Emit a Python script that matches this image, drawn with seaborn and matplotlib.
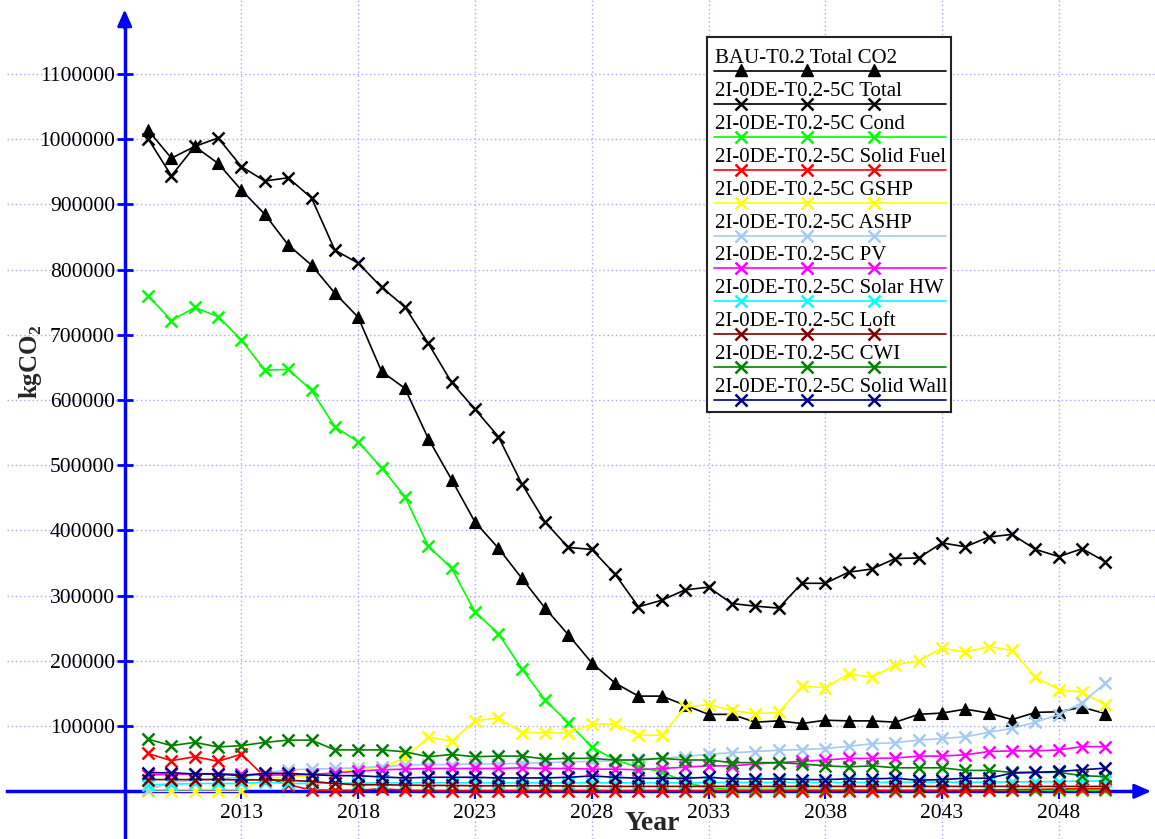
import matplotlib
matplotlib.use("Agg")
import matplotlib.pyplot as plt
from matplotlib.ticker import FuncFormatter
import seaborn as sns

# ---- data (kgCO2 per year) ----
years = list(range(2009, 2051))

bau_total = [1014000, 971000, 989000, 963000, 922000, 885000, 838000, 807000, 764000, 727000,
             644000, 618000, 541000, 478000, 413000, 373000, 327000, 281000, 240000, 197000,
             166000, 146000, 146000, 132000, 118000, 118000, 106000, 108000, 104000, 109000,
             108000, 108000, 106000, 118000, 120000, 126000, 120000, 110000, 121000, 122000,
             129000, 119000]

total = [1001000, 944000, 989000, 1002000, 958000, 936000, 941000, 910000, 830000, 810000,
         773000, 743000, 687000, 627000, 586000, 544000, 472000, 413000, 374000, 371000,
         333000, 283000, 293000, 309000, 313000, 288000, 284000, 281000, 319000, 319000,
         336000, 341000, 357000, 358000, 381000, 375000, 390000, 394000, 371000, 360000,
         372000, 352000]

cond = [760000, 722000, 742000, 728000, 692000, 646000, 647000, 615000, 559000, 536000,
        496000, 452000, 376000, 342000, 275000, 242000, 188000, 140000, 105000, 68000,
        48000, 37000, 30000, 14000, 5000, 3000, 3000, 3000, 3000, 2500,
        2500, 2000, 2000, 2000, 2000, 2000, 1500, 1500, 1500, 1500,
        1500, 1500]

solid_fuel = [58000, 47000, 53000, 46000, 57000, 22000, 10000, 2000, 1500, 1500,
              4000, 1500, 1000, 1000, 1000, 1000, 1000, 1000, 1000, 1000,
              1000, 1000, 1000, 1000, 1000, 1000, 1000, 1000, 1000, 1000,
              1000, 1000, 1000, 1000, 1000, 1500, 2000, 2500, 3000, 3500,
              4000, 4000]

gshp = [0, 0, 0, 0, 0, 20000, 22000, 24000, 28000, 35000,
        37000, 51000, 83000, 77000, 108000, 113000, 90000, 90000, 89000, 103000,
        103000, 86000, 86000, 129000, 133000, 124000, 119000, 121000, 161000, 159000,
        180000, 175000, 194000, 200000, 220000, 213000, 222000, 216000, 175000, 156000,
        152000, 132000]

ashp = [2000, 14000, 17000, 19000, 22000, 28000, 33000, 34000, 35000, 36000,
        38000, 40000, 41000, 41000, 42000, 42000, 43000, 44000, 45000, 46000,
        47000, 49000, 51000, 53000, 57000, 59000, 61000, 63000, 64000, 65500,
        69000, 73000, 74500, 78500, 81000, 83500, 90500, 96500, 106000, 117500,
        136000, 166000]

pv = [25000, 26000, 27000, 27000, 26000, 25000, 25000, 26000, 28000, 31000,
      33000, 34000, 35000, 35000, 35000, 35000, 36000, 35000, 35000, 34000,
      34000, 33000, 35000, 37000, 39000, 39000, 42000, 44000, 46000, 48000,
      50500, 50500, 51000, 54000, 54000, 56000, 61000, 62000, 62000, 63500,
      68500, 68500]

solar_hw = [10000, 11000, 12000, 12000, 12000, 14000, 12000, 12000, 12500, 12500,
            13000, 13000, 13000, 13000, 13000, 13000, 13000, 13000, 13000, 13000,
            13000, 13000, 13000, 13000, 13500, 13500, 13500, 13500, 13500, 13500,
            13500, 13500, 14000, 14000, 14000, 14000, 14000, 14500, 14500, 15000,
            15500, 16000]

loft = [18000, 18000, 18000, 18000, 17500, 17500, 17000, 15000, 12000, 10000,
        10000, 9500, 9000, 9000, 8500, 8500, 8500, 8500, 8000, 8000,
        7500, 7500, 7500, 7500, 7500, 7500, 7500, 7500, 7500, 7500,
        7500, 7500, 7500, 7500, 7500, 7500, 7500, 7500, 7500, 7500,
        7500, 7500]

cwi = [80000, 70000, 75000, 68000, 70000, 75000, 78500, 78500, 63500, 63500,
       63500, 60500, 53000, 56500, 53000, 54000, 54000, 49500, 50500, 50500,
       48000, 48000, 50500, 48000, 48000, 44000, 44000, 44000, 42000, 39000,
       37500, 39000, 36000, 36000, 36000, 32000, 32000, 29000, 29000, 29000,
       24000, 22500]

solid_wall = [28500, 28500, 26500, 26500, 24000, 27500, 27500, 25500, 24000, 24000,
              22000, 20500, 21500, 21500, 21500, 20500, 20500, 20500, 21500, 23500,
              21500, 20000, 20000, 20000, 21500, 19000, 19000, 19000, 18000, 18000,
              19000, 19000, 20000, 17000, 18000, 20000, 20000, 28000, 29000, 30500,
              33000, 35500]

series_labels = ["BAU-T0.2 Total CO2",
                 "2I-0DE-T0.2-5C Total",
                 "2I-0DE-T0.2-5C Cond",
                 "2I-0DE-T0.2-5C Solid Fuel",
                 "2I-0DE-T0.2-5C GSHP",
                 "2I-0DE-T0.2-5C ASHP",
                 "2I-0DE-T0.2-5C PV",
                 "2I-0DE-T0.2-5C Solar HW",
                 "2I-0DE-T0.2-5C Loft",
                 "2I-0DE-T0.2-5C CWI",
                 "2I-0DE-T0.2-5C Solid Wall"]
series_values = [bau_total, total, cond, solid_fuel, gshp, ashp, pv,
                 solar_hw, loft, cwi, solid_wall]
series_colors = ["#000000", "#000000", "#00ff00", "#ff0000", "#ffff00", "#a6caf0",
                 "#ff00ff", "#00ffff", "#800000", "#008000", "#000080"]
series_markers = ["^"] + ["x"] * 10

xticks = list(range(2013, 2049, 5))
yticks = list(range(100000, 1100001, 100000))

# ---- style ----
sns.set_theme(style="white")
plt.rcParams["font.family"] = ["Liberation Serif", "DejaVu Serif"]
plt.rcParams["mathtext.fontset"] = "custom"
plt.rcParams["mathtext.rm"] = "Liberation Serif"
plt.rcParams["mathtext.bf"] = "Liberation Serif:bold"

W, H = 1155, 839
fig = plt.figure(figsize=(W / 100, H / 100), dpi=100)
fig.patch.set_facecolor("white")
ax = fig.add_axes([7 / W, 0, 1 - 7 / W, 1])
ax.set_facecolor("white")

x0, x1 = 2002.96, 2052.12
y0, y1 = -73160, 1213600
ax.set_xlim(x0, x1)
ax.set_ylim(y0, y1)

for lab, vals, col, mk in zip(series_labels, series_values, series_colors, series_markers):
    if mk == "^":
        sns.lineplot(x=years, y=vals, ax=ax, color=col, marker="^", markersize=9,
                     markeredgecolor=col, markerfacecolor=col, markeredgewidth=0.8,
                     linewidth=1.2, zorder=3, legend=False)
    else:
        sns.lineplot(x=years, y=vals, ax=ax, color=col, marker="x", markersize=9,
                     markeredgecolor=col, markeredgewidth=1.8,
                     linewidth=1.2, zorder=3, legend=False)

# axes through (2008, 0) with arrow heads
for side in ("top", "right"):
    ax.spines[side].set_visible(False)
ax.spines["left"].set_position(("data", 2008))
ax.spines["bottom"].set_position(("data", 0))
for side in ("left", "bottom"):
    ax.spines[side].set_color("#0000ff")
    ax.spines[side].set_linewidth(2.5)
    ax.spines[side].set_zorder(1)
ax.spines["left"].set_bounds(y0, 1.185e6)
ax.spines["bottom"].set_bounds(x0, 2051.5)

arrow = dict(arrowstyle="-|>,head_length=0.5,head_width=0.22", color="#0000ff",
             lw=2, shrinkA=0, shrinkB=0, mutation_scale=20)
ax.annotate("", xy=(2008, 1.199e6), xytext=(2008, 1.17e6), arrowprops=arrow,
            zorder=1, annotation_clip=False)
ax.annotate("", xy=(2051.95, 0), xytext=(2051.0, 0), arrowprops=arrow,
            zorder=1, annotation_clip=False)

ax.set_xticks(xticks)
ax.set_yticks(yticks)
ax.yaxis.set_major_formatter(FuncFormatter(lambda v, p: f"{int(v)}"))
ax.xaxis.set_major_formatter(FuncFormatter(lambda v, p: f"{int(v)}"))
ax.tick_params(axis="y", direction="inout", length=12, width=2, color="#0000ff",
               pad=1, labelsize=15.5, left=True, labelcolor="black")
ax.tick_params(axis="x", direction="out", length=6, width=1.5, color="#0000ff",
               pad=3, labelsize=15.5, bottom=True, labelcolor="black")
ax.set_axisbelow(True)
ax.grid(True, color="#a8a8ff", linestyle=(0, (1, 2)), linewidth=1)
ax.set_xlabel("")
ax.set_ylabel("")

fig.text(652.5 / W, 1 - 823 / H, "Year", ha="center", va="center",
         fontsize=20, fontweight="bold")
fig.text(31 / W, 1 - 362 / H, r"kgCO$_\mathbf{2}$", ha="center", va="center",
         fontsize=18, fontweight="bold", rotation=90)

# ---- legend box: label above a line carrying three markers ----
lx, ly, lwid, lhei = 707, 37, 244, 375
lax = fig.add_axes([lx / W, 1 - (ly + lhei) / H, lwid / W, lhei / H])
lax.set_xlim(0, lwid)
lax.set_ylim(lhei, 0)
lax.set_xticks([])
lax.set_yticks([])
lax.set_facecolor("white")
for s in lax.spines.values():
    s.set_visible(True)
    s.set_color("#222222")
    s.set_linewidth(1.5)
for i, (lab, col, mk) in enumerate(zip(series_labels, series_colors, series_markers)):
    yy = 34 + 32.9 * i
    lax.plot([7, 239], [yy, yy], color=col, lw=1.2)
    if mk == "^":
        lax.plot([34, 100, 167], [yy - 1] * 3, linestyle="none", marker="^",
                 markersize=8, color=col)
    else:
        lax.plot([34, 100, 167], [yy] * 3, linestyle="none", marker="x",
                 markersize=8, markeredgewidth=1.8, color=col)
    lax.text(8, yy - 8, lab, fontsize=15, ha="left", va="baseline", color="black")

fig.savefig("out.png", dpi=100)
